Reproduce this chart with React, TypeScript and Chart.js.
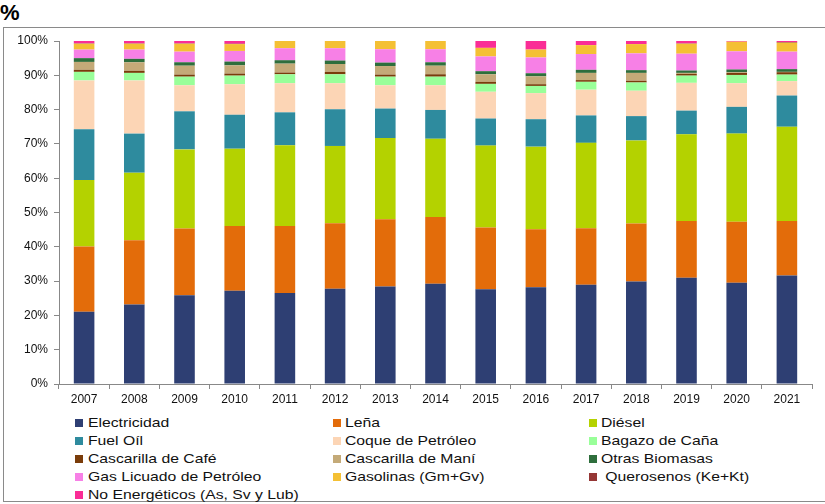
import React, { useEffect, useRef } from "react";
import { Chart, registerables } from "chart.js";

Chart.register(...registerables);

const years = ["2007", "2008", "2009", "2010", "2011", "2012", "2013", "2014", "2015", "2016", "2017", "2018", "2019", "2020", "2021"];

const electricidad = [21.1, 23.2, 25.9, 27.2, 26.5, 27.8, 28.4, 29.2, 27.6, 28.2, 28.9, 29.9, 31.0, 29.5, 31.6];
const lena = [19.0, 18.7, 19.4, 18.9, 19.6, 19.1, 19.6, 19.5, 18.0, 16.9, 16.5, 16.9, 16.5, 17.8, 15.9];
const diesel = [19.4, 19.7, 23.1, 22.5, 23.5, 22.5, 23.7, 22.8, 23.9, 24.1, 24.9, 24.2, 25.3, 25.7, 27.5];
const fuelOil = [14.8, 11.4, 11.1, 9.9, 9.6, 10.7, 8.6, 8.4, 7.9, 8.0, 8.0, 7.1, 6.9, 7.8, 9.1];
const coque = [14.2, 15.5, 7.6, 8.9, 8.5, 7.6, 6.8, 7.2, 7.8, 7.6, 7.5, 7.4, 8.1, 6.9, 4.2];
const bagazo = [2.5, 2.2, 2.5, 2.5, 2.6, 2.6, 2.5, 2.5, 2.3, 2.1, 2.3, 2.4, 2.1, 2.4, 1.9];
const cafe = [0.6, 0.6, 0.6, 0.6, 0.5, 0.7, 0.6, 0.7, 0.6, 0.5, 0.5, 0.5, 0.5, 0.6, 0.7];
const mani = [2.3, 2.5, 2.6, 2.4, 2.6, 2.3, 2.5, 2.5, 2.2, 2.3, 2.1, 2.3, 0.3, 0.2, 0.1];
const otras = [1.1, 1.0, 1.0, 1.1, 1.0, 1.0, 1.0, 1.0, 0.9, 0.9, 0.9, 0.8, 0.7, 0.8, 0.8];
const glp = [2.5, 2.7, 3.1, 3.1, 3.5, 3.6, 3.9, 3.8, 4.3, 4.6, 4.6, 4.9, 4.9, 5.3, 5.1];
const gasolinas = [1.7, 1.7, 2.3, 2.0, 2.1, 2.1, 2.4, 2.4, 2.5, 2.3, 2.6, 2.7, 2.9, 2.8, 2.6];
const querosenos = [0.1, 0.1, 0.1, 0.1, 0, 0, 0, 0, 0, 0, 0, 0, 0.1, 0, 0.2];
const noEnergeticos = [0.7, 0.7, 0.7, 0.8, 0, 0, 0, 0, 2.0, 2.5, 1.2, 0.9, 0.7, 0.2, 0.3];

const seriesNames = [
  "Electricidad", "Leña", "Diésel",
  "Fuel Oíl", "Coque de Petróleo", "Bagazo de Caña",
  "Cascarilla de Café", "Cascarilla de Maní", "Otras Biomasas",
  "Gas Licuado de Petróleo", "Gasolinas (Gm+Gv)", " Querosenos (Ke+Kt)",
  "No Energéticos (As, Sv y Lub)",
];
const seriesValues = [
  electricidad, lena, diesel, fuelOil, coque, bagazo, cafe, mani, otras,
  glp, gasolinas, querosenos, noEnergeticos,
];
const seriesColors = [
  "#2E3F73", "#E36C0A", "#B4D200",
  "#2E8B9E", "#FCD5B5", "#99FF99",
  "#7A3C0A", "#C4AA78", "#2E6E3C",
  "#F780E6", "#F4C034", "#953735",
  "#FA2D96",
];
const yTicks = [0, 10, 20, 30, 40, 50, 60, 70, 80, 90, 100];

const FONT = "'Liberation Sans', Arial, sans-serif";

export default function App() {
  const canvasRef = useRef<HTMLCanvasElement | null>(null);

  useEffect(() => {
    if (!canvasRef.current) return;
    const chart = new Chart(canvasRef.current, {
      type: "bar",
      data: {
        labels: years,
        datasets: seriesNames.map((name, i) => ({
          label: name,
          data: seriesValues[i],
          backgroundColor: seriesColors[i],
          borderWidth: 0,
          barPercentage: 0.41,
          categoryPercentage: 1,
        })),
      },
      options: {
        animation: false,
        responsive: false,
        maintainAspectRatio: false,
        layout: { padding: { left: 0, right: 13, top: 41, bottom: 0 } },
        plugins: { legend: { display: false }, tooltip: { enabled: false } },
        scales: {
          x: {
            stacked: true,
            grid: { display: true, drawOnChartArea: false, drawTicks: true, tickLength: 5, color: "#888", offset: true },
            border: { display: true, color: "#888", width: 1 },
            ticks: { color: "#111", font: { family: FONT, size: 12 }, padding: 3, maxRotation: 0 },
            afterFit: (s: any) => { s.height = 26; },
          },
          y: {
            stacked: true,
            min: 0,
            max: 100,
            afterBuildTicks: (s: any) => { s.ticks = yTicks.map((v) => ({ value: v })); },
            grid: { display: true, drawOnChartArea: false, drawTicks: true, tickLength: 5, color: "#888" },
            border: { display: true, color: "#888", width: 1 },
            ticks: { color: "#111", font: { family: FONT, size: 12 }, padding: 6, callback: (v: any) => v + "%" },
            afterFit: (s: any) => { s.width = 59; },
          },
        },
      },
    });
    return () => chart.destroy();
  }, []);

  const colX = [75, 333, 589];
  const textX = [88, 345, 601];
  const rowY = [423, 441, 459, 477, 495];

  return (
    <div style={{ position: "fixed", left: 0, top: 0, width: 825, height: 504, background: "#fff", overflow: "hidden", fontFamily: FONT }}>
      <div style={{ position: "absolute", left: 3, top: 27, width: 900, height: 475, border: "1px solid #8a8a8a", boxSizing: "border-box" }} />
      <div style={{ position: "absolute", left: 0, top: 2, fontSize: 22, fontWeight: "bold", lineHeight: "22px", color: "#000" }}>%</div>
      <canvas ref={canvasRef} width={825} height={410} style={{ position: "absolute", left: 0, top: 0, width: 825, height: 410 }} />
      {seriesNames.map((name, i) => {
        const col = i % 3;
        const row = Math.floor(i / 3);
        return (
          <React.Fragment key={name}>
            <div style={{ position: "absolute", left: colX[col], top: rowY[row] - 4, width: 8, height: 8, background: seriesColors[i] }} />
            <div style={{ position: "absolute", left: textX[col], top: rowY[row] - 8, fontSize: 13, lineHeight: "16px", color: "#111", whiteSpace: "pre", transform: "scaleX(1.21)", transformOrigin: "left center" }}>{name}</div>
          </React.Fragment>
        );
      })}
    </div>
  );
}
